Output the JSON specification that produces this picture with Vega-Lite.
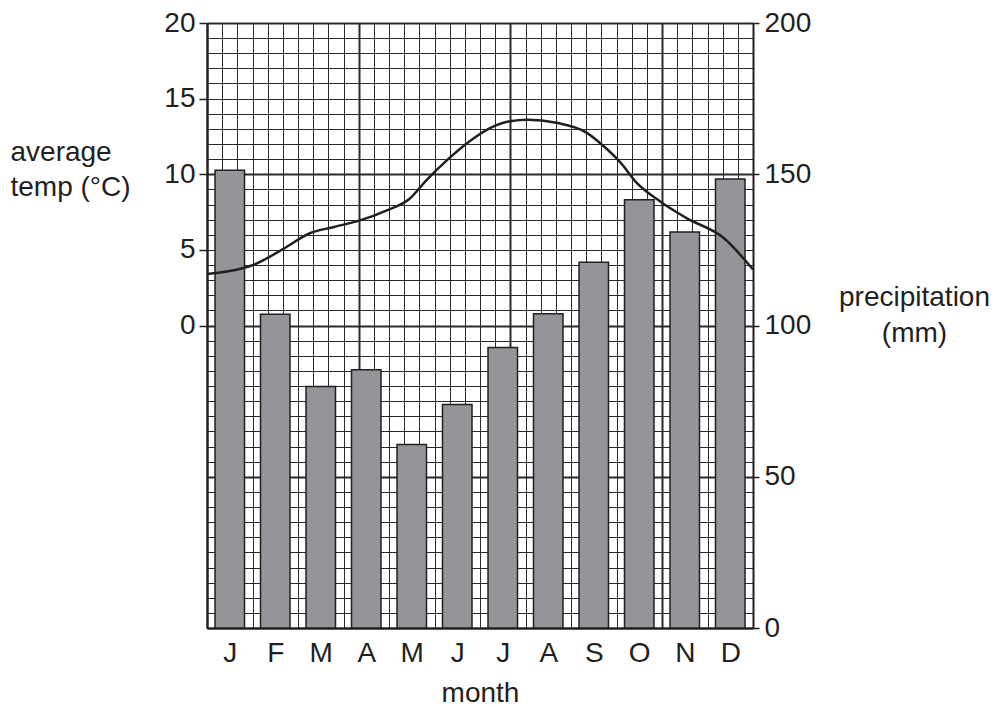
{
  "$schema": "https://vega.github.io/schema/vega-lite/v6.json",
  "width": 546,
  "height": 605,
  "autosize": {"type": "none"},
  "padding": {"left": 207, "top": 23, "right": 247, "bottom": 79},
  "background": "white",
  "config": {
    "font": "Liberation Sans",
    "view": {"stroke": null},
    "axis": {
      "labelFontSize": 28,
      "labelColor": "#231f20",
      "titleFontSize": 28,
      "titleFontWeight": "normal",
      "titleColor": "#231f20",
      "domainColor": "#231f20",
      "tickColor": "#231f20",
      "labelFont": "Liberation Sans",
      "titleFont": "Liberation Sans"
    }
  },
  "datasets": {
    "months": [
      {"month_num": 1, "month": "J", "precipitation": 151.3},
      {"month_num": 2, "month": "F", "precipitation": 103.7},
      {"month_num": 3, "month": "M", "precipitation": 79.8},
      {"month_num": 4, "month": "A", "precipitation": 85.4},
      {"month_num": 5, "month": "M", "precipitation": 60.7},
      {"month_num": 6, "month": "J", "precipitation": 73.9},
      {"month_num": 7, "month": "J", "precipitation": 92.7},
      {"month_num": 8, "month": "A", "precipitation": 103.9},
      {"month_num": 9, "month": "S", "precipitation": 120.9},
      {"month_num": 10, "month": "O", "precipitation": 141.6},
      {"month_num": 11, "month": "N", "precipitation": 130.9},
      {"month_num": 12, "month": "D", "precipitation": 148.4}
    ],
    "temperature": [
      {"month_pos": 0.5, "temp": 3.4},
      {"month_pos": 1.3, "temp": 3.8},
      {"month_pos": 1.51, "temp": 4.0},
      {"month_pos": 2.17, "temp": 5.05},
      {"month_pos": 2.76, "temp": 6.1},
      {"month_pos": 3.27, "temp": 6.5},
      {"month_pos": 3.86, "temp": 6.95},
      {"month_pos": 4.44, "temp": 7.6},
      {"month_pos": 4.96, "temp": 8.4},
      {"month_pos": 5.32, "temp": 9.6},
      {"month_pos": 5.8, "temp": 11.0},
      {"month_pos": 6.28, "temp": 12.2},
      {"month_pos": 6.72, "temp": 13.05},
      {"month_pos": 7.16, "temp": 13.5},
      {"month_pos": 7.55, "temp": 13.6},
      {"month_pos": 8.18, "temp": 13.4},
      {"month_pos": 8.84, "temp": 12.75},
      {"month_pos": 9.2, "temp": 11.9},
      {"month_pos": 9.58, "temp": 10.8},
      {"month_pos": 9.94, "temp": 9.45},
      {"month_pos": 10.46, "temp": 8.2},
      {"month_pos": 11.04, "temp": 7.1},
      {"month_pos": 11.85, "temp": 5.8},
      {"month_pos": 12.5, "temp": 3.7}
    ]
  },
  "layer": [
    {
      "data": {"name": "months"},
      "mark": {"type": "bar", "size": 29.5, "fill": "#939598", "stroke": "#231f20", "strokeWidth": 1.5},
      "encoding": {
        "x": {
          "field": "month_num",
          "type": "quantitative",
          "scale": {"domain": [0.5, 12.5], "nice": false, "zero": false, "padding": 0},
          "axis": {
            "orient": "bottom",
            "title": "month",
            "values": [1, 2, 3, 4, 5, 6, 7, 8, 9, 10, 11, 12],
            "labelExpr": "['J','F','M','A','M','J','J','A','S','O','N','D'][datum.value-1]",
            "ticks": false,
            "grid": false,
            "domain": true,
            "domainWidth": 2,
            "labelPadding": 11,
            "titlePadding": 12,
            "labelFlush": false,
            "labelOverlap": false
          }
        },
        "y": {
          "field": "precipitation",
          "type": "quantitative",
          "scale": {"domain": [0, 200], "nice": false, "padding": 0},
          "axis": {
            "orient": "right",
            "values": [0, 50, 100, 150, 200],
            "grid": false,
            "domain": true,
            "domainWidth": 2,
            "tickSize": 6,
            "tickWidth": 1.5,
            "labelPadding": 5,
            "labelFlush": false,
            "labelBaseline": "middle",
            "title": ["precipitation", "(mm)"],
            "titleAngle": 0,
            "titleAlign": "center",
            "titleBaseline": "alphabetic",
            "titleX": 161,
            "titleY": 282,
            "titleLineHeight": 36
          }
        }
      }
    },
    {
      "data": {"name": "temperature"},
      "mark": {"type": "line", "stroke": "#231f20", "strokeWidth": 2.5, "interpolate": "monotone"},
      "encoding": {
        "x": {
          "field": "month_pos",
          "type": "quantitative",
          "scale": {"domain": [0.5, 12.5], "nice": false, "zero": false, "padding": 0},
          "axis": {
            "orient": "top",
            "title": null,
            "labels": false,
            "ticks": false,
            "domain": false,
            "grid": true,
            "gridColor": "#2a2a2a",
            "values": [0.5, 0.8333, 1.1667, 1.5, 1.8333, 2.1667, 2.5, 2.8333, 3.1667, 3.5, 3.8333, 4.1667, 4.5, 4.8333, 5.1667, 5.5, 5.8333, 6.1667, 6.5, 6.8333, 7.1667, 7.5, 7.8333, 8.1667, 8.5, 8.8333, 9.1667, 9.5, 9.8333, 10.1667, 10.5, 10.8333, 11.1667, 11.5, 11.8333, 12.1667, 12.5],
            "gridWidth": {"condition": {"test": "round((datum.value-0.5)*3) % 10 == 0", "value": 2}, "value": 1}
          }
        },
        "y": {
          "field": "temp",
          "type": "quantitative",
          "scale": {"domain": [-20, 20], "nice": false, "zero": false, "padding": 0},
          "axis": {
            "orient": "left",
            "values": [-20, -19, -18, -17, -16, -15, -14, -13, -12, -11, -10, -9, -8, -7, -6, -5, -4, -3, -2, -1, 0, 1, 2, 3, 4, 5, 6, 7, 8, 9, 10, 11, 12, 13, 14, 15, 16, 17, 18, 19, 20],
            "labelExpr": "(datum.value >= 0 && datum.value % 5 == 0) ? datum.label : ''",
            "labelBaseline": "middle",
            "labelFlush": false,
            "labelOverlap": false,
            "labelPadding": 4,
            "tickSize": 8,
            "tickWidth": 1.5,
            "tickOpacity": {"condition": {"test": "datum.value >= 0 && datum.value % 5 == 0", "value": 1}, "value": 0},
            "domain": true,
            "domainWidth": 2,
            "grid": true,
            "gridColor": "#2a2a2a",
            "gridWidth": {"condition": {"test": "datum.value % 10 == 0", "value": 2}, "value": 1},
            "title": ["average", "temp (°C)"],
            "titleAngle": 0,
            "titleAlign": "left",
            "titleBaseline": "alphabetic",
            "titleX": -197,
            "titleY": 137,
            "titleLineHeight": 35
          }
        }
      }
    }
  ],
  "resolve": {"scale": {"y": "independent"}, "axis": {"x": "independent"}}
}
